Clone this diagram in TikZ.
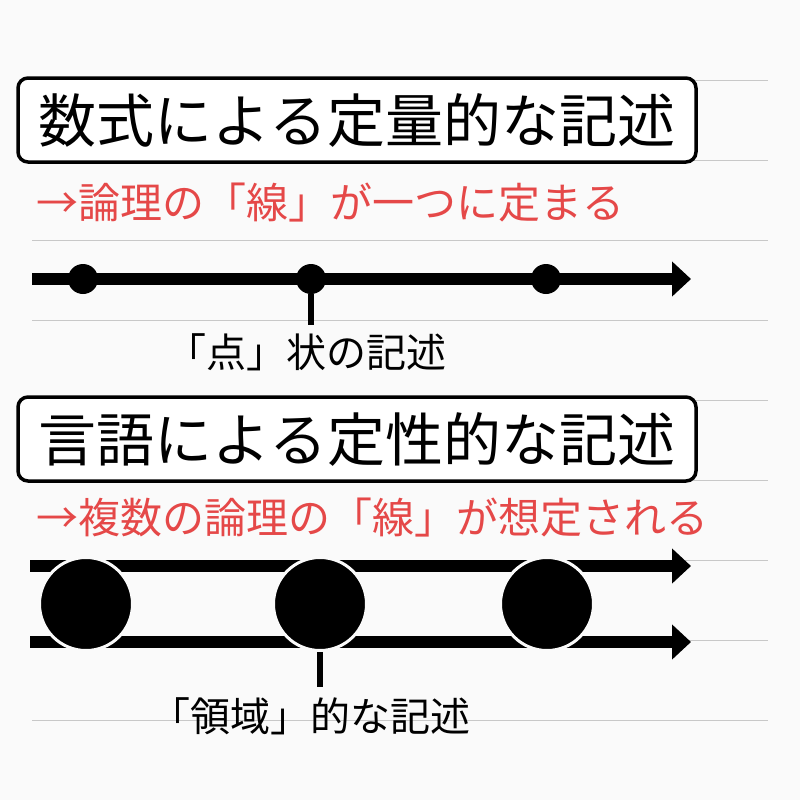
\documentclass[tikz,border=0pt]{standalone}
\usepackage{fontspec}
\usetikzlibrary{arrows.meta,positioning}
\newfontfamily\jp{Noto Sans CJK JP}
\definecolor{paper}{RGB}{250,250,250}
\definecolor{rule}{RGB}{200,200,200}
\definecolor{red}{RGB}{229,72,72}

\begin{document}
\begin{tikzpicture}[x=1pt,y=-1pt,>={Triangle[length=19pt,width=34pt]},
  ruled/.style={draw=rule,line width=1pt},
  heading/.style={draw,line width=3.5pt,rounded corners=10pt,fill=white,
    minimum width=678pt,minimum height=84pt,inner sep=0pt,
    font=\jp\fontsize{58}{60}\selectfont},
  claim/.style={anchor=west,inner sep=0pt,text=red,font=\jp\fontsize{42}{44}\selectfont},
  remark/.style={inner sep=0pt,font=\jp\fontsize{40}{42}\selectfont},
  axis/.style={->,line width=12pt},
  stem/.style={line width=6pt},
  dot/.style={circle,fill,inner sep=0pt,minimum size=30pt},
  blob/.style={circle,fill,draw=paper,line width=3pt,inner sep=0pt,minimum size=93pt}]
\fill[paper] (0,0) rectangle (800,800);
\foreach \y in {80,160,...,720} \draw[ruled] (32,\y) -- (768,\y);

% quantitative
\node[heading] (h1) at (357,120) {数式による定量的な記述};
\node[claim] (c1) at (36,203) {→論理の「線」が一つに定まる};
\coordinate (s1) at (32,279);
\coordinate (e1) at (691,279);
\draw[axis] (s1) -- (e1);
\foreach \x/\n in {83/1,311/2,546/3} \node[dot] (d\n) at (\x,279) {};
\coordinate (k1) at (311,325);
\draw[stem] (d2.south) -- (k1);
\node[remark] (r1) at (306,352) {「点」状の記述};

% qualitative
\node[heading] (h2) at (357,439) {言語による定性的な記述};
\node[claim] (c2) at (36,518) {→複数の論理の「線」が想定される};
\coordinate (s2) at (30,566);
\coordinate (e2) at (691,566);
\coordinate (s3) at (30,642);
\coordinate (e3) at (691,642);
\draw[axis] (s2) -- (e2);
\draw[axis] (s3) -- (e3);
\foreach \x/\n in {86/1,320/2,547/3} \node[blob] (b\n) at (\x,604) {};
\coordinate (k2) at (320,687);
\draw[stem] (b2.south) -- (k2);
\node[remark] (r2) at (310,716) {「領域」的な記述};
\end{tikzpicture}
\end{document}
